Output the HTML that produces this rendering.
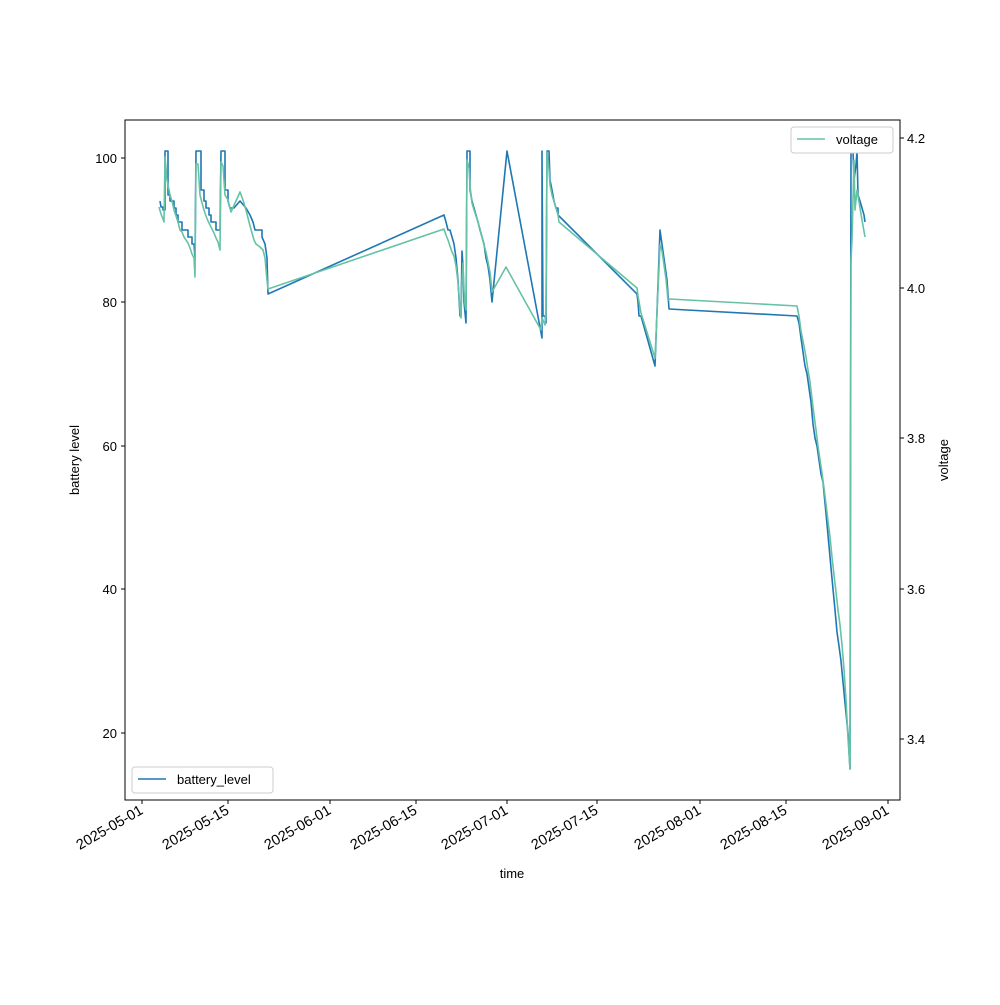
<!DOCTYPE html>
<html><head><meta charset="utf-8"><style>
body{margin:0;background:#fff}
text{font-family:"Liberation Sans","DejaVu Sans",sans-serif;font-size:13px;fill:#000}
.d{font-size:14.5px}
</style></head><body>
<svg width="1000" height="1000" viewBox="0 0 1000 1000" xmlns="http://www.w3.org/2000/svg">
<rect width="1000" height="1000" fill="#fff"/>
<polyline fill="none" stroke="#1f77b4" stroke-width="1.6" stroke-linejoin="round" points="160,201 161,207 163,207 163,210 165,210 165,151 168,151 168,195 170,195 170,201 174,201 174,208 176,208 176,215 178,215 178,222 182,222 182,230 188,230 188,237 192,237 192,244 194,244 195,258 196,151 201,151 201,190 204,190 204,201 206,201 206,208 209,208 209,215 211,215 211,222 216,222 216,230 220,230 221,151 225,151 225,190 228,190 228,201 230,208 234,208 240,201 246,208 250,215 253,222 255,230 262,230 262,237 265,244 267,258 268,294 444,215 446,222 448,230 450,230 452,237 454,244 456,258 458,280 460,316 461,316 462,251 463,266 464,302 466,323 467,151 470,151 470,190 472,201 474,208 476,215 478,222 480,230 482,237 484,244 486,258 488,266 490,280 492,302 507,151 542,338 542,151 543,316 545,316 546,323 547,151 549,151 550,180 552,190 554,201 556,208 558,208 558,215 637,294 638,302 639,316 641,316 655,366 660,230 667,280 669,309 797,316 799,323 801,338 803,352 805,366 807,374 809,388 811,402 813,424 815,438 817,446 819,460 821,474 823,482 825,503 827,524 829,546 831,568 833,589 835,610 837,632 839,646 841,661 843,682 845,703 848,733 850,769 851,151 853,151 854,180 856,165 857,151 858,195 860,201 862,208 864,215 865,222"/>
<polyline fill="none" stroke="#66c2a5" stroke-width="1.6" stroke-linejoin="round" points="159,207 161,214 163,219 164,222 165,157 167,180 170,195 172,201 174,210 176,216 178,222 180,230 182,232 184,237 186,240 188,243 190,248 192,254 194,258 195,277 196,164 198,164 200,195 202,203 204,210 206,216 208,221 210,225 212,229 214,233 216,238 218,242 220,250 221,162 223,166 225,195 228,200 231,212 240,192 243,200 246,210 249,222 252,233 254,240 256,244 260,247 263,250 265,258 267,280 268,289 444,229 446,235 448,240 450,246 452,252 454,256 456,266 458,282 460,309 461,318 462,280 463,263 464,290 465,305 466,310 467,160 469,168 470,186 472,203 474,210 476,216 478,222 480,229 482,237 484,245 486,252 488,262 490,272 492,292 506,267 541,330 542,318 543,320 545,325 546,310 547,152 549,170 550,185 552,195 555,205 558,215 559,222 637,288 638,296 641,313 655,358 660,245 662,251 666,279 668,300 670,299 797,306 799,316 801,331 804,346 806,357 808,370 810,382 812,399 814,415 816,430 818,446 820,460 822,473 824,488 826,504 828,521 830,537 832,557 834,575 836,592 838,610 840,625 842,645 844,669 846,700 848,738 850,769 851,262 852,240 854,160 855,210 857,190 858,196 860,208 862,220 865,237"/>
<rect x="125" y="120" width="775" height="680" fill="none" stroke="#000" stroke-width="1"/>
<g stroke="#000">
<line x1="121" y1="158" x2="125" y2="158"/><line x1="121" y1="302" x2="125" y2="302"/><line x1="121" y1="446" x2="125" y2="446"/><line x1="121" y1="589" x2="125" y2="589"/><line x1="121" y1="733" x2="125" y2="733"/>
<line x1="900" y1="138" x2="904" y2="138"/><line x1="900" y1="288" x2="904" y2="288"/><line x1="900" y1="438" x2="904" y2="438"/><line x1="900" y1="589" x2="904" y2="589"/><line x1="900" y1="739" x2="904" y2="739"/>
<line x1="142" y1="800" x2="142" y2="804"/><line x1="228" y1="800" x2="228" y2="804"/><line x1="330" y1="800" x2="330" y2="804"/><line x1="416" y1="800" x2="416" y2="804"/><line x1="507" y1="800" x2="507" y2="804"/><line x1="597" y1="800" x2="597" y2="804"/><line x1="700" y1="800" x2="700" y2="804"/><line x1="786" y1="800" x2="786" y2="804"/><line x1="888" y1="800" x2="888" y2="804"/>
</g>
<g text-anchor="end">
<text x="117" y="163">100</text><text x="117" y="307">80</text><text x="117" y="451">60</text><text x="117" y="594">40</text><text x="117" y="738">20</text>
</g>
<g text-anchor="start">
<text x="907" y="143">4.2</text><text x="907" y="293">4.0</text><text x="907" y="443">3.8</text><text x="907" y="594">3.6</text><text x="907" y="744">3.4</text>
</g>
<g text-anchor="end" class="d">
<text class="d" transform="translate(144,813) rotate(-30)">2025-05-01</text>
<text class="d" transform="translate(230,813) rotate(-30)">2025-05-15</text>
<text class="d" transform="translate(332,813) rotate(-30)">2025-06-01</text>
<text class="d" transform="translate(418,813) rotate(-30)">2025-06-15</text>
<text class="d" transform="translate(509,813) rotate(-30)">2025-07-01</text>
<text class="d" transform="translate(599,813) rotate(-30)">2025-07-15</text>
<text class="d" transform="translate(702,813) rotate(-30)">2025-08-01</text>
<text class="d" transform="translate(788,813) rotate(-30)">2025-08-15</text>
<text class="d" transform="translate(890,813) rotate(-30)">2025-09-01</text>
</g>
<text x="512" y="878" text-anchor="middle">time</text>
<text transform="translate(79,460) rotate(-90)" text-anchor="middle">battery level</text>
<text transform="translate(948,460) rotate(-90)" text-anchor="middle">voltage</text>
<rect x="132" y="767" width="141" height="26" rx="3" fill="#fff" stroke="#ccc"/>
<line x1="138" y1="779" x2="166" y2="779" stroke="#1f77b4" stroke-width="1.6"/>
<text x="177" y="784">battery_level</text>
<rect x="791" y="127" width="102" height="26" rx="3" fill="#fff" stroke="#ccc"/>
<line x1="797" y1="139" x2="825" y2="139" stroke="#66c2a5" stroke-width="1.6"/>
<text x="836" y="144">voltage</text>
</svg>
</body></html>
